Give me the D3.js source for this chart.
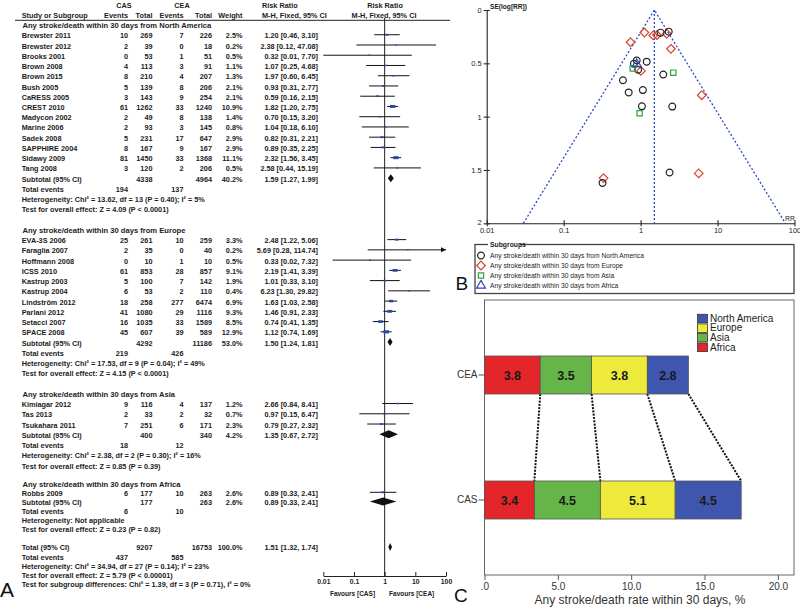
<!DOCTYPE html>
<html><head><meta charset="utf-8">
<script src="https://cdn.jsdelivr.net/npm/d3@7"></script>
<style>
html,body{margin:0;padding:0;background:#fff;}
svg{display:block;font-family:"Liberation Sans",Arial,sans-serif;}
</style></head><body>
<svg id="chart" width="800" height="607"></svg>
<script>
// ---------------- DATA ----------------
const regions = ["North America", "Europe", "Asia", "Africa"];
const studies = ["Brewster 2011","Brewster 2012","Brooks 2001","Brown 2008","Brown 2015","Bush 2005","CaRESS 2005","CREST 2010","Madycon 2002","Marine 2006","Sadek 2008","SAPPHIRE 2004","Sidawy 2009","Tang 2008",
  "EVA-3S 2006","Faraglia 2007","Hoffmann 2008","ICSS 2010","Kastrup 2003","Kastrup 2004","Lindström 2012","Parlani 2012","Setacci 2007","SPACE 2008",
  "Kimiagar 2012","Tas 2013","Tsukahara 2011","Robbs 2009"];
const studyRegion = [0,0,0,0,0,0,0,0,0,0,0,0,0,0, 1,1,1,1,1,1,1,1,1,1, 2,2,2, 3];
const casEvents = [10,2,0,4,8,5,3,61,2,2,5,8,81,3, 25,2,0,61,5,6,18,41,16,45, 9,2,7, 6];
const casTotals = [269,39,53,113,210,139,143,1262,49,93,231,167,1450,120, 261,35,10,853,100,53,258,1080,1035,607, 116,33,251, 177];
const ceaEvents = [7,0,1,3,4,8,9,33,8,3,17,9,33,2, 10,0,1,28,7,2,277,29,33,39, 4,2,6, 10];
const ceaTotals = [226,18,51,91,207,206,254,1240,138,145,647,167,1368,206, 259,40,10,857,142,110,6474,1116,1589,589, 137,32,171, 263];
const weights = [2.5,0.2,0.5,1.1,1.3,2.1,2.1,10.9,1.4,0.8,2.9,2.9,11.1,0.5, 3.3,0.2,0.5,9.1,1.9,0.4,6.9,9.3,8.5,12.9, 1.2,0.7,2.3, 2.6];
const riskRatios = [1.20,2.38,0.32,1.07,1.97,0.93,0.59,1.82,0.70,1.04,0.82,0.89,2.32,2.58, 2.48,5.69,0.33,2.19,1.01,6.23,1.63,1.46,0.74,1.12, 2.66,0.97,0.79, 0.89];
const ciLow = [0.46,0.12,0.01,0.25,0.60,0.31,0.16,1.20,0.15,0.18,0.31,0.35,1.56,0.44, 1.22,0.28,0.02,1.41,0.33,1.30,1.03,0.91,0.41,0.74, 0.84,0.15,0.27, 0.33];
const ciHigh = [3.10,47.08,7.70,4.68,6.45,2.77,2.15,2.75,3.20,6.10,2.21,2.25,3.45,15.19, 5.06,114.74,7.32,3.39,3.10,29.82,2.58,2.33,1.35,1.69, 8.41,6.47,2.32, 2.41];

const subCasEvents = [194,219,18,6];
const subCeaEvents = [137,426,12,10];
const subCasTotals = [4338,4292,400,177];
const subCeaTotals = [4964,11186,340,263];
const subWeights = [40.2,53.0,4.2,2.6];
const subRR = [1.59,1.50,1.35,0.89];
const subLow = [1.27,1.24,0.67,0.33];
const subHigh = [1.99,1.81,2.72,2.41];
const heterogeneityText = [
  "Heterogeneity: Chi² = 13.62, df = 13 (P = 0.40); I² = 5%",
  "Heterogeneity: Chi² = 17.53, df = 9 (P = 0.04); I² = 49%",
  "Heterogeneity: Chi² = 2.38, df = 2 (P = 0.30); I² = 16%",
  "Heterogeneity: Not applicable"];
const effectText = [
  "Test for overall effect: Z = 4.09 (P < 0.0001)",
  "Test for overall effect: Z = 4.15 (P < 0.0001)",
  "Test for overall effect: Z = 0.85 (P = 0.39)",
  "Test for overall effect: Z = 0.23 (P = 0.82)"];
const totalCasTotal = 9207, totalCeaTotal = 16753, totalWeight = 100.0;
const totalRR = 1.51, totalLow = 1.32, totalHigh = 1.74;
const totalCasEvents = 437, totalCeaEvents = 585;
const totalTexts = [
  "Heterogeneity: Chi² = 34.94, df = 27 (P = 0.14); I² = 23%",
  "Test for overall effect: Z = 5.79 (P < 0.00001)",
  "Test for subgroup differences: Chi² = 1.39, df = 3 (P = 0.71), I² = 0%"];
const forestTicks = [0.01,0.1,1,10,100];
const forestTickLabels = ["0.01","0.1","1","10","100"];

const funnelXTicks = [0.01,0.1,1,10,100];
const funnelXLabels = ["0.01","0.1","1","10","100"];
const funnelYTicks = [0,0.5,1,1.5,2];
const funnelYLabels = ["0","0.5","1","1.5","2"];

const barGroups = ["CEA","CAS"];
const barRegions = ["Africa","Asia","Europe","North America"];
const ceaRates = [3.8,3.5,3.8,2.8];
const casRates = [3.4,4.5,5.1,4.5];
const barTicks = [0,5,10,15,20];
const barTickLabels = [".0","5.0","10.0","15.0","20.0"];
const legendOrder = ["North America","Europe","Asia","Africa"];

// ---------------- SETUP ----------------
const svg = d3.select("#chart");
svg.append("rect").attr("width",800).attr("height",607).attr("fill","#fff");
const FONT = "'Liberation Sans', Arial, sans-serif";

// ================= PANEL A : FOREST =================
const A = svg.append("g").attr("font-family",FONT).attr("font-weight","bold")
  .attr("font-size",7.3).attr("fill","#1c1c1c");
const rowY = d3.scaleLinear().domain([0,43,56]).range([25.5,466,584.3]);
const rrX = d3.scaleLog().domain([0.01,100]).range([323.3,446]);
const col = {name:21.7, casE:128, casT:152.5, ceaE:183.5, ceaT:212, wt:242.5, ci:318};
const f1 = d3.format(".1f"), f2 = d3.format(".2f");
const ciStr = (r,l,h)=> `${f2(r)} [${f2(l)}, ${f2(h)}]`;

function txt(x,y,s,anchor,size){
  const t = A.append("text").attr("x",x).attr("y",y).attr("dy","0.35em")
    .attr("text-anchor",anchor||"start").text(s);
  if(size) t.attr("font-size",size);
  return t;
}

// headers
txt(124,5.5,"CAS","middle");
txt(182,5.5,"CEA","middle");
txt(262,5.5,"Risk Ratio","start");
txt(385,5.5,"Risk Ratio","middle");
txt(col.name,15.3,"Study or Subgroup");
txt(col.casE,15.3,"Events","end");
txt(col.casT,15.3,"Total","end");
txt(col.ceaE,15.3,"Events","end");
txt(col.ceaT,15.3,"Total","end");
txt(col.wt,15.3,"Weight","end");
txt(262,15.3,"M-H, Fixed, 95% CI","start");
txt(384,15.3,"M-H, Fixed, 95% CI","middle");
A.append("line").attr("x1",15).attr("x2",450).attr("y1",20.3).attr("y2",20.3)
  .attr("stroke","#222").attr("stroke-width",1);

// build rows
const rows = []; let r = 0;
regions.forEach((reg,gi)=>{
  rows.push({type:"title", text:"Any stroke/death within 30 days from "+reg, row:r++});
  studies.forEach((s,i)=>{ if(studyRegion[i]===gi) rows.push({type:"study", i, row:r++}); });
  rows.push({type:"subtotal", gi, row:r++});
  rows.push({type:"events", cas:subCasEvents[gi], cea:subCeaEvents[gi], row:r++});
  rows.push({type:"text", text:heterogeneityText[gi], row:r++});
  rows.push({type:"text", text:effectText[gi], row:r++});
  r++;
});
rows.push({type:"total", row:r++});
rows.push({type:"events", cas:totalCasEvents, cea:totalCeaEvents, row:r++});
totalTexts.forEach(t=>rows.push({type:"text", text:t, row:r++}));

// vertical line of no effect
A.append("line").attr("x1",rrX(1)).attr("x2",rrX(1)).attr("y1",18).attr("y2",576)
  .attr("stroke","#222").attr("stroke-width",1);

const plotG = A.append("g");
function diamond(y, rr, lo, hi){
  plotG.append("path")
    .attr("d",`M${rrX(lo)},${y}L${rrX(rr)},${y-4}L${rrX(hi)},${y}L${rrX(rr)},${y+4}Z`)
    .attr("fill","#111");
}

rows.forEach(d=>{
  const y = rowY(d.row);
  if(d.type==="title"){ txt(22.5,y,d.text,"start",7.6); }
  else if(d.type==="study"){
    const i = d.i;
    txt(col.name,y,studies[i]);
    txt(col.casE,y,casEvents[i],"end");
    txt(col.casT,y,casTotals[i],"end");
    txt(col.ceaE,y,ceaEvents[i],"end");
    txt(col.ceaT,y,ceaTotals[i],"end");
    txt(col.wt,y,f1(weights[i])+"%","end");
    txt(col.ci,y,ciStr(riskRatios[i],ciLow[i],ciHigh[i]),"end");
    const hiV = Math.min(ciHigh[i],100), loV = Math.max(ciLow[i],0.01);
    const yl = y-1;
    plotG.append("line").attr("x1",rrX(loV)).attr("x2",rrX(hiV)).attr("y1",yl).attr("y2",yl)
      .attr("stroke","#111").attr("stroke-width",1);
    if(ciHigh[i]>100){
      const xe = rrX(100);
      plotG.append("path").attr("d",`M${xe},${yl}L${xe-5},${yl-2.5}L${xe-5},${yl+2.5}Z`).attr("fill","#111");
    }
    const s = 1.3 + Math.sqrt(weights[i])*1.2;
    plotG.append("rect").attr("x",rrX(riskRatios[i])-s/2).attr("y",yl-s*0.28)
      .attr("width",s).attr("height",s*0.56).attr("fill","#2c46a8");
  }
  else if(d.type==="subtotal"){
    const g = d.gi;
    txt(col.name,y,"Subtotal (95% CI)");
    txt(col.casT,y,subCasTotals[g],"end");
    txt(col.ceaT,y,subCeaTotals[g],"end");
    txt(col.wt,y,f1(subWeights[g])+"%","end");
    txt(col.ci,y,ciStr(subRR[g],subLow[g],subHigh[g]),"end");
    diamond(y-1, subRR[g], subLow[g], subHigh[g]);
  }
  else if(d.type==="events"){
    txt(col.name,y,"Total events");
    txt(col.casE,y,d.cas,"end");
    txt(col.ceaE,y,d.cea,"end");
  }
  else if(d.type==="text"){ txt(col.name,y,d.text); }
  else if(d.type==="total"){
    txt(col.name,y,"Total (95% CI)");
    txt(col.casT,y,totalCasTotal,"end");
    txt(col.ceaT,y,totalCeaTotal,"end");
    txt(col.wt,y,f1(totalWeight)+"%","end");
    txt(col.ci,y,ciStr(totalRR,totalLow,totalHigh),"end");
    diamond(y-1, totalRR, totalLow, totalHigh);
  }
});

// forest axis
const fAxis = A.append("g").attr("transform","translate(0,576)")
  .call(d3.axisBottom(rrX).tickValues(forestTicks).tickSize(-4).tickSizeOuter(0).tickPadding(3)
    .tickFormat((d,i)=>forestTickLabels[i]));
fAxis.attr("font-family",FONT).attr("font-size",6.8).attr("font-weight","bold");
fAxis.selectAll("path,line").attr("stroke","#222").attr("stroke-width",1);
fAxis.selectAll("text").attr("fill","#1c1c1c");
txt(352.5,594,"Favours [CAS]","middle",6.5);
txt(411.7,594,"Favours [CEA]","middle",6.5);
svg.append("text").attr("x",0).attr("y",597).attr("font-family",FONT).attr("font-size",21).attr("fill","#111").text("A");

// ================= PANEL B : FUNNEL =================
const B = svg.append("g").attr("font-family",FONT).attr("fill","#1c1c1c");
const fx = d3.scaleLog().domain([0.01,100]).range([486.7,794.5]);
const fy = d3.scaleLinear().domain([0,2]).range([10,223.3]);

// funnel lines
const lnP = Math.log(totalRR);
const seMax = fy.domain()[1];
const loB = Math.exp(lnP-1.96*seMax), hiB = Math.exp(lnP+1.96*seMax);
B.append("path")
  .attr("d",`M${fx(loB)},${fy(seMax)}L${fx(totalRR)},${fy(0)}L${fx(hiB)},${fy(seMax)}`)
  .attr("fill","none").attr("stroke","#2d48c8").attr("stroke-width",1.3).attr("stroke-dasharray","2,2");
B.append("line").attr("x1",fx(totalRR)).attr("x2",fx(totalRR)).attr("y1",fy(0)).attr("y2",fy(seMax))
  .attr("stroke","#2d48c8").attr("stroke-width",1.3).attr("stroke-dasharray","2,2");

// axes
const yAx = B.append("g").attr("transform",`translate(${fx(0.01)},0)`)
  .call(d3.axisLeft(fy).tickValues(funnelYTicks).tickSize(3).tickSizeOuter(0).tickPadding(2)
    .tickFormat((d,i)=>funnelYLabels[i]));
yAx.selectAll(".tick").append("line").attr("x2",3).attr("stroke","#222");
yAx.selectAll(".tick text").filter((d,i)=>i===funnelYTicks.length-1).attr("dy","0.1em");
const xAx = B.append("g").attr("transform",`translate(0,${fy(2)})`)
  .call(d3.axisBottom(fx).tickValues(funnelXTicks).tickSize(3).tickSizeOuter(0).tickPadding(1.5)
    .tickFormat((d,i)=>funnelXLabels[i]));
xAx.selectAll(".tick").append("line").attr("y2",-3).attr("stroke","#222");
[yAx,xAx].forEach(g=>{
  g.attr("font-family",FONT).attr("font-size",7.5);
  g.selectAll("path,line").attr("stroke","#222").attr("stroke-width",1.1);
  g.selectAll("text").attr("fill","#1c1c1c");
});
B.append("text").attr("x",490).attr("y",9).attr("font-size",6.6).attr("font-weight","bold").text("SE(log[RR])");
B.append("text").attr("x",785).attr("y",221).attr("font-size",6.8).text("RR");

// points
const regionColors = ["#222222","#d8452f","#2fa23a","#2b45b8"];
const diamondPath = "M0,-4.3L4.3,0L0,4.3L-4.3,0Z";
const symbolPaths = [
  d3.symbol(d3.symbolCircle,36)(),
  diamondPath,
  d3.symbol(d3.symbolSquare,28)(),
  d3.symbol(d3.symbolTriangle,34)()
];
function seLogRR(a,n1,c,n2){
  if(a===0||c===0){a+=0.5;c+=0.5;n1+=1;n2+=1;}
  return Math.sqrt(1/a-1/n1+1/c-1/n2);
}
const pts = studies.map((s,i)=>({rr:riskRatios[i], se:seLogRR(casEvents[i],casTotals[i],ceaEvents[i],ceaTotals[i]), g:studyRegion[i]}));
const drawOrder = [1,0,2,3];
drawOrder.forEach(g=>{
  B.append("g").selectAll("path").data(pts.filter(p=>p.g===g)).join("path")
    .attr("d",symbolPaths[g])
    .attr("transform",p=>`translate(${fx(p.rr)},${fy(p.se)})`)
    .attr("fill","none").attr("stroke",regionColors[g]).attr("stroke-width",1.2);
});

// legend
B.append("rect").attr("x",475).attr("y",244.5).attr("width",319).attr("height",49)
  .attr("fill","none").attr("stroke","#444").attr("stroke-width",1.3);
B.append("rect").attr("x",488).attr("y",241).attr("width",32).attr("height",7).attr("fill","#fff");
B.append("text").attr("x",490).attr("y",247).attr("font-size",6.8).attr("font-weight","bold").text("Subgroups");
regions.forEach((reg,gi)=>{
  const y = 255.5 + gi*10;
  B.append("path").attr("d",symbolPaths[gi]).attr("transform",`translate(481,${y})`)
    .attr("fill","none").attr("stroke",regionColors[gi]).attr("stroke-width",1.2);
  B.append("text").attr("x",490).attr("y",y).attr("dy","0.35em").attr("font-size",6.7)
    .text("Any stroke/death within 30 days from "+reg);
});
svg.append("text").attr("x",455.5).attr("y",290).attr("font-family",FONT).attr("font-size",19).attr("fill","#111").text("B");

// ================= PANEL C : STACKED BARS =================
const C = svg.append("g").attr("font-family",FONT);
const cx = d3.scaleLinear().domain([0,21.1]).range([484.5,794]);
const cy = d3.scaleBand().domain(barGroups).range([300,575]).paddingInner(0.696).paddingOuter(0.448);
const barColors = {"Africa":"#e4262b","Asia":"#66b548","Europe":"#eeea3c","North America":"#3e56ad"};
const rateRows = [ceaRates, casRates].map((vals,k)=>{
  const o = {group:barGroups[k]}; barRegions.forEach((rg,j)=>o[rg]=vals[j]); return o;
});
const stacked = d3.stack().keys(barRegions)(rateRows);

// frame
C.append("rect").attr("x",cx(0)).attr("y",300).attr("width",cx.range()[1]-cx(0)).attr("height",275)
  .attr("fill","#fff").attr("stroke","#666").attr("stroke-width",1);

// connectors
barRegions.forEach((rg,j)=>{
  const top = stacked[j][0][1], bot = stacked[j][1][1];
  C.append("line").attr("x1",cx(top)).attr("y1",cy("CEA")+cy.bandwidth())
    .attr("x2",cx(bot)).attr("y2",cy("CAS"))
    .attr("stroke","#111").attr("stroke-width",2).attr("stroke-dasharray","2,1.3");
});

stacked.forEach(layer=>{
  const key = layer.key;
  layer.forEach(seg=>{
    const g = seg.data.group;
    C.append("rect").attr("x",cx(seg[0])).attr("y",cy(g))
      .attr("width",cx(seg[1])-cx(seg[0])).attr("height",cy.bandwidth())
      .attr("fill",barColors[key]).attr("stroke","#555").attr("stroke-width",0.8);
    C.append("text").attr("x",(cx(seg[0])+cx(seg[1]))/2).attr("y",cy(g)+cy.bandwidth()/2)
      .attr("dy","0.36em").attr("text-anchor","middle").attr("font-size",12.5).attr("font-weight","bold")
      .attr("fill","#1a1a1a").text(f1(seg.data[key]));
  });
});

// axes
const cxAx = C.append("g").attr("transform","translate(0,575)")
  .call(d3.axisBottom(cx).tickValues(barTicks).tickSize(5).tickSizeOuter(0).tickPadding(3)
    .tickFormat((d,i)=>barTickLabels[i]));
const cyAx = C.append("g").attr("transform",`translate(${cx(0)},0)`)
  .call(d3.axisLeft(cy).tickSize(6).tickSizeOuter(0).tickPadding(1));
[cxAx,cyAx].forEach(g=>{
  g.attr("font-family",FONT).attr("font-size",10);
  g.select(".domain").remove();
  g.selectAll("line").attr("stroke","#555");
  g.selectAll("text").attr("fill","#333");
});
C.append("text").attr("x",640).attr("y",604).attr("text-anchor","middle").attr("font-size",12)
  .attr("fill","#333").text("Any stroke/death rate within 30 days, %");

// legend
legendOrder.forEach((rg,k)=>{
  const y = 318.3 + k*9.6;
  C.append("rect").attr("x",697.5).attr("y",y-4).attr("width",10).attr("height",8.5)
    .attr("fill",barColors[rg]).attr("stroke","#333").attr("stroke-width",0.8);
  C.append("text").attr("x",710).attr("y",y).attr("dy","0.35em").attr("font-size",10)
    .attr("fill","#222").text(rg);
});
svg.append("text").attr("x",454).attr("y",602).attr("font-family",FONT).attr("font-size",19).attr("fill","#111").text("C");
</script>
</body></html>
